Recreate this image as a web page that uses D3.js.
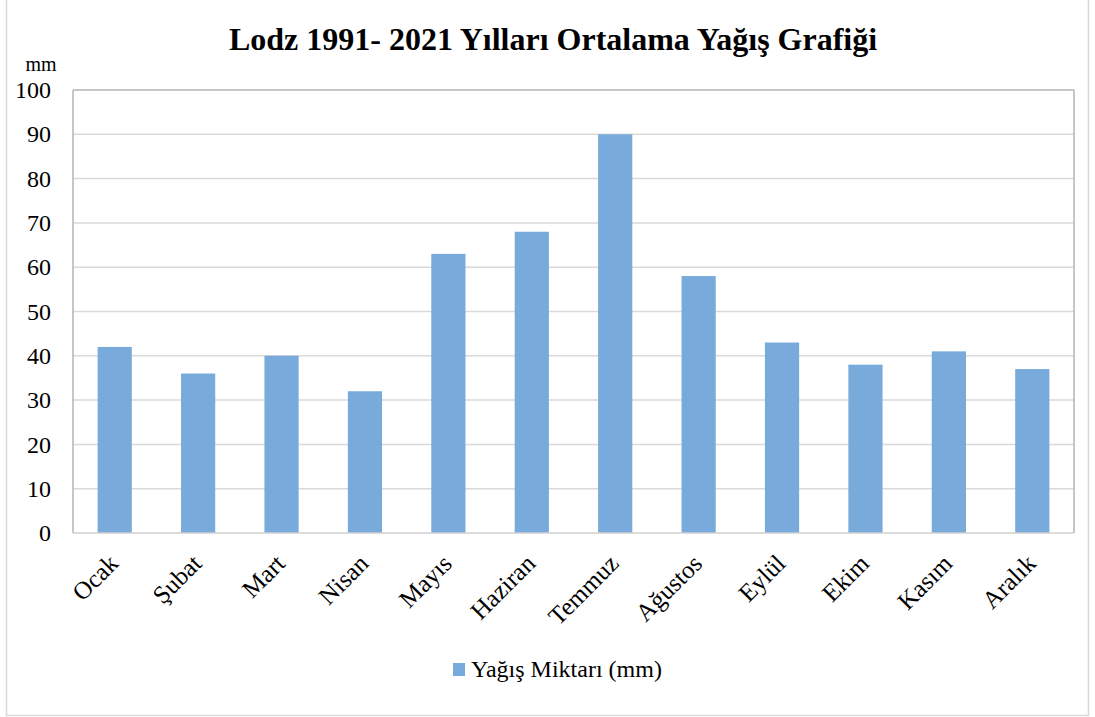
<!DOCTYPE html>
<html>
<head>
<meta charset="utf-8">
<script src="https://cdn.jsdelivr.net/npm/d3@7"></script>
<style>
    body { margin: 0; background: #fff; }
    svg text { font-family: "Liberation Serif", "Times New Roman", Tinos, "DejaVu Serif", serif; fill: #000; }
</style>
</head>
<body>
<svg id="chart" width="1095" height="717"></svg>
<script>
// values
var months = ["Ocak", "Şubat", "Mart", "Nisan", "Mayıs", "Haziran", "Temmuz", "Ağustos", "Eylül", "Ekim", "Kasım", "Aralık"];
var rainfall = [42, 36, 40, 32, 63, 68, 90, 58, 43, 38, 41, 37];
var yTicks = [0, 10, 20, 30, 40, 50, 60, 70, 80, 90, 100];

var data = months.map(function (m, i) {
    return {month: m, value: rainfall[i]};
});

var svg = d3.select("#chart"),
    margin = {top: 90, right: 21, bottom: 184, left: 73},
    width = 1095 - margin.left - margin.right,
    height = 717 - margin.top - margin.bottom,
    barColor = "#78aadb",
    serif = '"Liberation Serif", "Times New Roman", Tinos, "DejaVu Serif", serif';

// outer chart frame
svg.append("rect")
    .attr("x", 6.5).attr("y", -2)
    .attr("width", 1082).attr("height", 717.5)
    .attr("fill", "none")
    .attr("stroke", "#d9d9d9")
    .attr("stroke-width", 1.5);

svg.append("text")
    .attr("x", 553)
    .attr("y", 50)
    .attr("text-anchor", "middle")
    .style("font-family", serif)
    .style("font-size", "32px")
    .style("font-weight", "bold")
    .text("Lodz 1991- 2021 Yılları Ortalama Yağış Grafiği");

svg.append("text")
    .attr("x", 41)
    .attr("y", 71)
    .attr("text-anchor", "middle")
    .style("font-family", serif)
    .style("font-size", "20px")
    .text("mm");

var g = svg.append("g").attr("transform", "translate(" + margin.left + "," + margin.top + ")");

var x = d3.scaleBand()
    .domain(months)
    .range([0, width])
    .paddingInner(0.59)
    .paddingOuter(0.295);

var y = d3.scaleLinear()
    .domain([0, 100])
    .range([height, 0]);

// grid lines
g.append("g")
    .selectAll("line")
    .data(yTicks.slice(1, -1))
    .enter().append("line")
    .attr("x1", 0).attr("x2", width)
    .attr("y1", function (d) { return y(d); })
    .attr("y2", function (d) { return y(d); })
    .attr("stroke", "#d9d9d9")
    .attr("stroke-width", 1.5);

// bars
g.append("g")
    .selectAll("rect")
    .data(data)
    .enter().append("rect")
    .attr("x", function (d) { return x(d.month); })
    .attr("y", function (d) { return y(d.value); })
    .attr("width", x.bandwidth())
    .attr("height", function (d) { return height - y(d.value); })
    .attr("fill", barColor);

// plot frame: top, left, right darker, bottom axis light
g.append("line").attr("x1", 0).attr("x2", width).attr("y1", 0).attr("y2", 0)
    .attr("stroke", "#b3b3b3").attr("stroke-width", 1.5);
g.append("line").attr("x1", 0).attr("x2", 0).attr("y1", 0).attr("y2", height)
    .attr("stroke", "#b3b3b3").attr("stroke-width", 1.5);
g.append("line").attr("x1", width).attr("x2", width).attr("y1", 0).attr("y2", height)
    .attr("stroke", "#b3b3b3").attr("stroke-width", 1.5);
g.append("line").attr("x1", 0).attr("x2", width).attr("y1", height).attr("y2", height)
    .attr("stroke", "#d0d0d0").attr("stroke-width", 1.5);

// y axis labels
var yAxis = g.append("g")
    .call(d3.axisLeft(y).tickValues(yTicks).tickSize(0).tickPadding(22))
    .attr("font-family", serif);
yAxis.select(".domain").remove();
yAxis.selectAll("text")
    .style("font-family", serif)
    .style("font-size", "24px")
    .attr("fill", "#000");

// x axis labels, rotated
var xAxis = g.append("g")
    .attr("transform", "translate(0," + height + ")")
    .call(d3.axisBottom(x).tickSize(0).tickPadding(0))
    .attr("font-family", serif);
xAxis.select(".domain").remove();
xAxis.selectAll("text")
    .style("font-family", serif)
    .style("font-size", "25px")
    .attr("fill", "#000")
    .attr("text-anchor", "end")
    .attr("dy", "0")
    .attr("y", 0)
    .attr("transform", "translate(5,32) rotate(-45)");

// legend
var legend = svg.append("g").attr("transform", "translate(453,663)");
legend.append("rect")
    .attr("width", 12).attr("height", 13)
    .attr("fill", barColor);
legend.append("text")
    .attr("x", 18)
    .attr("y", 14)
    .style("font-family", serif)
    .style("font-size", "24px")
    .text("Yağış Miktarı (mm)");
</script>
</body>
</html>
